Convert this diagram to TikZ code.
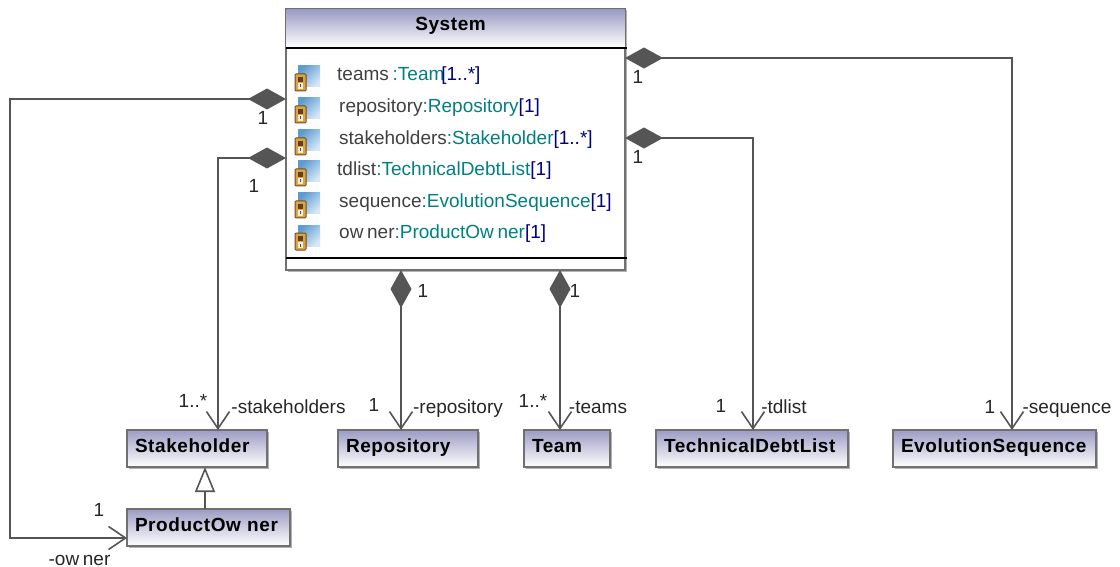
\documentclass[tikz,border=0pt]{standalone}
\usepackage{fontspec}
\setmainfont{Liberation Sans}[WordSpace=0.7]
\newfontfamily\classfont{Liberation Sans}[LetterSpace=3,WordSpace=0.2]
\usetikzlibrary{arrows.meta,shadows}
\definecolor{linegray}{HTML}{555555}
\definecolor{boxedge}{HTML}{707070}
\definecolor{boxtop}{HTML}{9C9CC4}
\definecolor{nametext}{HTML}{404040}
\definecolor{typetext}{HTML}{008080}
\definecolor{multext}{HTML}{000080}
\definecolor{iconblue}{HTML}{5F9BD0}
\definecolor{iconpale}{HTML}{D5E8F5}
\definecolor{lockfill}{HTML}{D9A441}

\begin{document}
\begin{tikzpicture}[
        x=1pt, y=-1pt,
        lbl/.style={inner sep=0pt, text height=14pt, text depth=4pt, font=\fontsize{19}{22}\selectfont, text=black!85},
        attr/.style={anchor=west, inner sep=0pt, font=\fontsize{19}{22}\selectfont, text=nametext},
        cls/.style={rectangle, anchor=north west, draw=boxedge, line width=1.4pt, top color=boxtop, bottom color=white,
            outer sep=0pt, inner xsep=8pt, inner ysep=0pt, minimum height=37pt, align=left, text height=14pt, text depth=6pt,
            font=\fontsize{19}{22}\selectfont\classfont\bfseries,
            copy shadow={shadow xshift=1.5pt, shadow yshift=-1.5pt, draw=none, fill=black!30}},
        comp/.style={draw=linegray, line width=1.6pt, {Diamond[length=38pt, width=21pt]}-{Straight Barb[length=17pt, width=23pt]}},
        inh/.style={draw=linegray, line width=1.6pt, -{Triangle[open, fill=white, length=25pt, width=20pt]}},
        sep/.style={draw=black, line width=1.5pt},
        attricon/.pic={
            \shade[top color=iconblue, bottom color=iconpale, shading angle=45] (3,-9) rectangle (25,12);
            \fill[lockfill, draw=brown!60!black, line width=1pt, rounded corners=1pt] (0,-1) rectangle (11,16);
            \fill[brown!50!black] (3,2) rectangle (8,7);
            \fill[white!85!brown] (3,8) rectangle (8,14);
            \fill[black!70] (4.8,9.5) rectangle (6.2,12.5);
        },
        ]
      \useasboundingbox (0,0) rectangle (1120,567);

      % the big class
      \node[rectangle, anchor=north west, draw=boxedge, line width=1.4pt, fill=white, outer sep=0pt, minimum width=339pt, minimum height=261pt,
          copy shadow={shadow xshift=1.5pt, shadow yshift=-1.5pt, draw=none, fill=black!30}] (sys) at (286, 9) {};
      \node[rectangle, anchor=north west, top color=boxtop, bottom color=white, outer sep=0pt, inner sep=0pt, minimum width=338pt, minimum height=38pt,
          text height=14pt, text depth=11pt,
          font=\fontsize{19}{22}\selectfont\classfont\bfseries] (sysname) at (286.6, 9.6) {System\kern10pt};
      \coordinate (sysa) at (286, 48);
      \coordinate (sysb) at (627, 48);
      \coordinate (sysc) at (286, 258);
      \coordinate (sysd) at (627, 258);
      \draw[sep] (sysa) -- (sysb);
      \draw[sep] (sysc) -- (sysd);

      \pic at (295, 75) {attricon};
      \pic at (295, 107) {attricon};
      \pic at (295, 139) {attricon};
      \pic at (295, 170) {attricon};
      \pic at (295, 202) {attricon};
      \pic at (295, 234) {attricon};

      \node[attr] (teams) at (337, 76) {teams {\color{typetext}:Team}\kern-3pt{\color{multext}[1..*]}};
      \node[attr] (repo) at (339, 108) {repository{\color{typetext}:Repository}{\color{multext}[1]}};
      \node[attr] (stake) at (339, 140) {stakeholders{\color{typetext}:Stakeholder}{\color{multext}[1..*]}};
      \node[attr] (tdl) at (337, 171) {tdlist{\color{typetext}:TechnicalDebtList}{\color{multext}[1]}};
      \node[attr] (seq) at (339, 203) {sequence{\color{typetext}:EvolutionSequence}{\color{multext}[1]}};
      \node[attr] (own) at (339, 234) {ow ner{\color{typetext}:ProductOw ner}{\color{multext}[1]}};

      % the small classes
      \node[cls, text width=124pt] (st) at (127, 430) {Stakeholder};
      \node[cls, text width=124pt] (re) at (338, 430) {Repository};
      \node[cls, text width=70pt] (te) at (524, 430) {Team};
      \node[cls, text width=176pt] (td) at (656, 430) {TechnicalDebtList};
      \node[cls, text width=187pt] (ev) at (893, 430) {EvolutionSequence};
      \node[cls, text width=147pt] (po) at (127, 509) {ProductOw ner};

      \coordinate (ownbend) at (10, 538);

      \draw[comp] ([yshift=-90pt]sys.north west) -| (ownbend) -- ([yshift=-10.5pt]po.west);
      \draw[comp] ([yshift=-149pt]sys.north west) -| ([xshift=21pt]st.north);
      \draw[comp] ([xshift=-54.5pt]sys.south) -- ([xshift=-7pt]re.north);
      \draw[comp] ([xshift=104.5pt]sys.south) -- ([xshift=-7pt]te.north);
      \draw[comp] ([yshift=-129pt]sys.north east) -| ([xshift=1pt]td.north);
      \draw[comp] ([yshift=-49pt]sys.north east) -| ([xshift=17.5pt]ev.north);
      \draw[inh] ([xshift=-3.5pt]po.north) -- ([xshift=8pt]st.south);

      % multiplicities and role names
      \node[lbl] (m1) at (263, 120) {1};
      \node[lbl] (m2) at (254, 188) {1};
      \node[lbl] (m3) at (423, 292) {1};
      \node[lbl] (m4) at (575, 292) {1};
      \node[lbl] (m5) at (638, 79) {1};
      \node[lbl] (m6) at (638, 159) {1};
      \node[lbl] (m7) at (193, 402) {1..*};
      \node[lbl] (m8) at (374, 406) {1};
      \node[lbl] (m9) at (533, 402) {1..*};
      \node[lbl] (m10) at (721, 407) {1};
      \node[lbl] (m11) at (990, 408) {1};
      \node[lbl] (m12) at (99, 511) {1};

      \node[lbl] (r1) at (288.5, 408) {-stakeholders};
      \node[lbl] (r2) at (458, 408) {-repository};
      \node[lbl] (r3) at (598, 408) {-teams};
      \node[lbl] (r4) at (784, 408) {-tdlist};
      \node[lbl] (r5) at (1067, 408) {-sequence};
      \node[lbl] (r6) at (79.5, 560) {-ow ner};
    \end{tikzpicture}
\end{document}
